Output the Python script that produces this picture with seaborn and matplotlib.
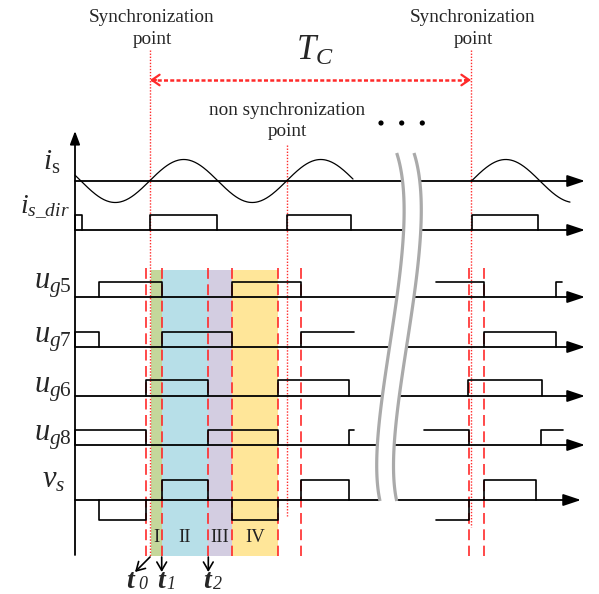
import numpy as np
import pandas as pd
import matplotlib
matplotlib.use("Agg")
import matplotlib.pyplot as plt
import seaborn as sns
from matplotlib.patches import Polygon

# ---------------- data (time axis in drawing units) ----------------
signal_names = ["is", "is_dir", "ug5", "ug7", "ug6", "ug8", "vs"]
signal_rows = [181, 230, 297, 347, 396, 445, 500]          # baseline row of each trace
signal_labels = [r"$i_{\mathrm{s}}$", r"$i_{s\_dir}$", r"$u_{g5}$", r"$u_{g7}$",
                 r"$u_{g6}$", r"$u_{g8}$", r"$v_{s}$"]

# pulses: (start, end, level, drawn edges)
isdir_pulses = [(75, 82, 1, "LR"), (149.5, 216.7, 1, "LR"), (286.7, 351, 1, "LR"), (471.5, 538, 1, "LR")]
ug5_pulses = [(99, 161.7, 1, "LR"), (231.7, 300.7, 1, "LR"), (436, 484.3, 1, "R"), (556, 562, 1, "L")]
ug7_pulses = [(75, 99, 1, "LR"), (161.7, 231.7, 1, "LR"), (300.7, 354, 1, "L"), (484.3, 556, 1, "LR")]
ug6_pulses = [(146, 208.3, 1, "LR"), (278.3, 349, 1, "LR"), (468.3, 541.7, 1, "LR")]
ug8_pulses = [(75, 146, 1, "LR"), (208.3, 278.3, 1, "LR"), (349, 354, 1, "L"), (424, 469, 1, "R"), (541, 563, 1, "L")]
vs_pulses = [(99, 146, -1, "LR"), (161.7, 208.3, 1, "LR"), (231.7, 278.3, -1, "LR"),
             (300.7, 349, 1, "LR"), (436, 469, -1, "R"), (484.3, 536, 1, "LR")]

# sinusoidal current i_s
is_amp = 21.5
is_period = 137.0
is_zero_up = [149.5, 471.5]
is_spans = [(75, 353), (471.5, 570)]

# time events
sync_points = [150, 471]
nonsync_point = 287
switch_events = [146, 161.7, 208.3, 231.7, 278.3, 300.7, 469, 484.3]
interval_edges = [150.5, 161.7, 208.3, 231.7, 278.3]
interval_names = ["I", "II", "III", "IV"]
interval_colors = ["#C4D79B", "#B7DFE8", "#D3CDE1", "#FFE699"]
t_marks = ["0", "1", "2"]
t_mark_x = [150, 161.7, 208.3]

# ---------------- style ----------------
sns.set_theme(style="white")
plt.rcParams["font.family"] = ["Liberation Serif", "DejaVu Serif"]
plt.rcParams["mathtext.fontset"] = "custom"
plt.rcParams["mathtext.rm"] = "Liberation Serif"
plt.rcParams["mathtext.it"] = "Liberation Serif:italic"
plt.rcParams["mathtext.bf"] = "Liberation Serif:bold"

RED = "#ff2a2a"
fig = plt.figure(figsize=(5.99, 5.94), dpi=100)
ax = fig.add_axes([0, 0, 1, 1])
ax.set_xlim(0, 599)
ax.set_ylim(594, 0)
ax.axis("off")

def line(xs, ys, **kw):
    df = pd.DataFrame({"x": xs, "y": ys})
    sns.lineplot(data=df, x="x", y="y", sort=False, estimator=None, ax=ax, legend=False, **kw)

# coloured intervals
band_top, band_bot = 270, 556
for i, c in enumerate(interval_colors):
    ax.fill_between([interval_edges[i], interval_edges[i + 1]], band_top, band_bot, color=c, lw=0, zorder=0)
    ax.text((interval_edges[i] + interval_edges[i + 1]) / 2, 538, interval_names[i], ha="center",
            va="center", fontsize=13.5, color="#222222", zorder=3)

# vertical axis
ax.annotate("", xy=(75, 131), xytext=(75, 555),
            arrowprops=dict(arrowstyle="-|>,head_length=0.8,head_width=0.3", mutation_scale=10,
                            lw=1.3, color="black", shrinkA=0, shrinkB=0), zorder=4)

# baselines with arrows
for name, row in zip(signal_names, signal_rows):
    tip = 581 if name == "vs" else 585
    ax.annotate("", xy=(tip, row), xytext=(75, row),
                arrowprops=dict(arrowstyle="-|>,head_length=1.08,head_width=0.36", mutation_scale=10,
                                lw=1.3, color="black", shrinkA=0, shrinkB=0), zorder=4)

# sine current
for z, (a, b) in zip(is_zero_up, is_spans):
    xs = np.linspace(a, b, 300)
    line(xs, signal_rows[0] - is_amp * np.sin(2 * np.pi * (xs - z) / is_period), color="black", lw=0.9, zorder=4)

# pulse traces
def draw_pulses(pulses, row, h):
    for s, e, lv, edges in pulses:
        top = row - h * lv
        xs, ys = [s, e], [top, top]
        if "L" in edges:
            xs, ys = [s] + xs, [row] + ys
        if "R" in edges:
            xs, ys = xs + [e], ys + [row]
        line(xs, ys, color="black", lw=1.2, zorder=4)

draw_pulses(isdir_pulses, signal_rows[1], 15)
draw_pulses(ug5_pulses, signal_rows[2], 15)
draw_pulses(ug7_pulses, signal_rows[3], 15)
draw_pulses(ug6_pulses, signal_rows[4], 16)
draw_pulses(ug8_pulses, signal_rows[5], 15)
draw_pulses(vs_pulses, signal_rows[6], 20)

# signal labels
label_x = [60, 70, 72, 72, 72, 72, 65]
label_y = [170, 212, 289, 342, 393, 440, 488]
label_fs = [21, 20, 22, 22, 22, 22, 22]
for lab, x, y, fs in zip(signal_labels, label_x, label_y, label_fs):
    ax.text(x, y, lab, ha="right", va="baseline", fontsize=fs, zorder=5)

# red dashed switching lines
for x in switch_events:
    ax.plot([x, x], [268, 556], color=RED, lw=1.2, ls=(0, (6.5, 3.3)), zorder=3)

# sync / non-sync dotted lines
ax.plot([sync_points[0]] * 2, [50, 556], color=RED, lw=1.0, ls=(0, (1, 1.2)), zorder=3)
ax.plot([sync_points[1]] * 2, [50, 527], color=RED, lw=1.0, ls=(0, (1, 1.2)), zorder=3)
ax.plot([nonsync_point] * 2, [145, 516], color=RED, lw=1.0, ls=(0, (1, 1.2)), zorder=3)

# T_C arrow
ax.plot([sync_points[0] + 1, sync_points[1] - 1], [80, 80], color=RED, lw=1.8, ls=(0, (1.6, 0.9)), zorder=3)
for tip, tail in [(sync_points[0], sync_points[0] + 6), (sync_points[1], sync_points[1] - 6)]:
    ax.annotate("", xy=(tip, 80), xytext=(tail, 80),
                arrowprops=dict(arrowstyle="->,head_length=0.55,head_width=0.38", mutation_scale=10,
                                lw=1.6, color=RED, shrinkA=0, shrinkB=0))
ax.text(315, 60, r"$T_C$", ha="center", va="baseline", fontsize=25)

# texts
for x in sync_points:
    ax.text(x + 2, 22, "Synchronization", ha="center", va="baseline", fontsize=13.8)
    ax.text(x + 2, 44, "point", ha="center", va="baseline", fontsize=13.8)
ax.text(nonsync_point, 115, "non synchronization", ha="center", va="baseline", fontsize=13.8)
ax.text(nonsync_point, 136.5, "point", ha="center", va="baseline", fontsize=13.8)

# ellipsis
dots = pd.DataFrame({"x": [381, 401.7, 422.3], "y": [123, 123, 123]})
sns.scatterplot(data=dots, x="x", y="y", s=14, color="black", edgecolor="none", ax=ax, legend=False)

# break symbol
def bez(p0, p1, p2, p3, n=100):
    t = np.linspace(0, 1, n)[:, None]
    P = [np.array(p) for p in (p0, p1, p2, p3)]
    return (1 - t) ** 3 * P[0] + 3 * (1 - t) ** 2 * t * P[1] + 3 * (1 - t) * t ** 2 * P[2] + t ** 3 * P[3]

left_c = bez((396.7, 153), (425, 240), (362, 420), (380, 501))
right_c = bez((414, 153), (442, 240), (379, 420), (396.7, 501))
poly = np.vstack([left_c, right_c[::-1]])
ax.add_patch(Polygon(poly, closed=True, facecolor="white", edgecolor="none", zorder=6))
for c in (left_c, right_c):
    ax.plot(c[:, 0], c[:, 1], color="#aaaaaa", lw=2.3, zorder=7, solid_capstyle="butt")

# t0, t1, t2 markers
t_text_x = [130.5, 161.5, 207.5]
t_sub_x = [138, 166.5, 213]
ax.annotate("", xy=(135, 572), xytext=(t_mark_x[0], 557),
            arrowprops=dict(arrowstyle="->,head_length=0.6,head_width=0.35", mutation_scale=10,
                            lw=1.2, color="black", shrinkA=0, shrinkB=0))
for x in t_mark_x[1:]:
    ax.annotate("", xy=(x, 572), xytext=(x, 557),
                arrowprops=dict(arrowstyle="->,head_length=0.6,head_width=0.35", mutation_scale=10,
                                lw=1.2, color="black", shrinkA=0, shrinkB=0))
for m, tx, sx in zip(t_marks, t_text_x, t_sub_x):
    ax.text(tx, 588, "t", ha="center", va="baseline", fontsize=20, fontstyle="italic", fontweight="bold")
    ax.text(sx, 589, m, ha="left", va="baseline", fontsize=13, fontstyle="italic")

fig.savefig("out.png", dpi=100)
